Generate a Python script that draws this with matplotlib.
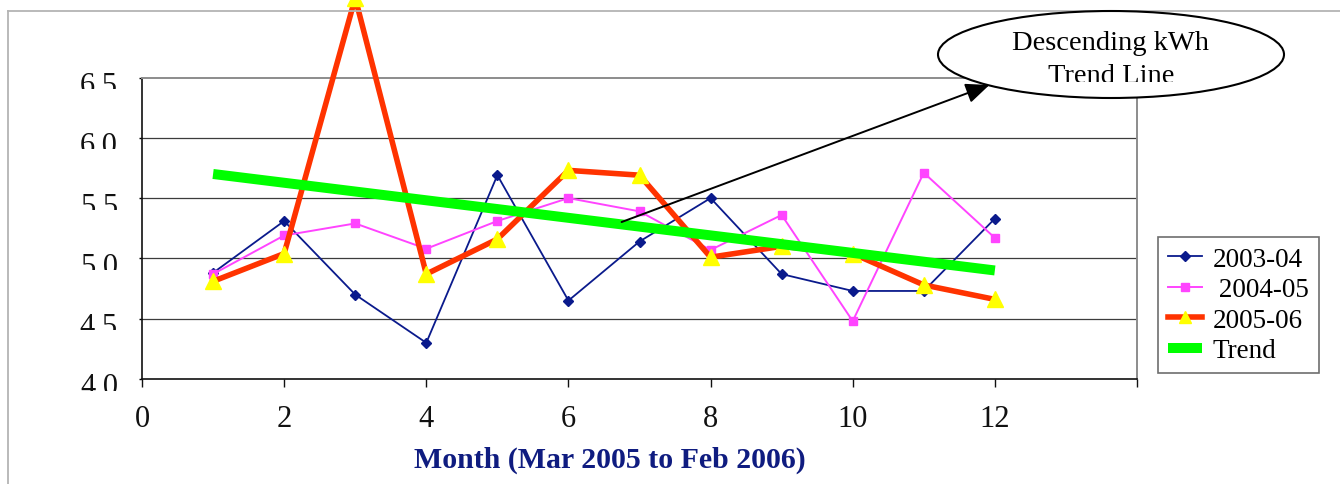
import matplotlib
matplotlib.use("Agg")
import matplotlib.pyplot as plt
from matplotlib.patches import Ellipse, FancyArrowPatch, ArrowStyle
from matplotlib.lines import Line2D
from matplotlib.transforms import Bbox, blended_transform_factory, ScaledTranslation

# ---- data ----
months = [1, 2, 3, 4, 5, 6, 7, 8, 9, 10, 11, 12]
s2003_04 = [4.88, 5.31, 4.70, 4.30, 5.69, 4.65, 5.14, 5.50, 4.87, 4.73, 4.73, 5.33]
s2004_05 = [4.87, 5.19, 5.29, 5.08, 5.31, 5.50, 5.39, 5.07, 5.36, 4.48, 5.71, 5.17]
s2005_06 = [4.81, 5.04, 7.16, 4.87, 5.16, 5.73, 5.69, 5.01, 5.10, 5.04, 4.78, 4.66]
trend_x = [1, 12]
trend_y = [5.70, 4.90]
series_labels = ["2003-04", " 2004-05", "2005-06", "Trend"]
xticks = [0, 2, 4, 6, 8, 10, 12, 14]
xtick_labels = ["0", "2", "4", "6", "8", "10", "12", ""]
yticks = [4.0, 4.5, 5.0, 5.5, 6.0, 6.5]
ytick_labels = ["4.0", "4.5", "5.0", "5.5", "6.0", "6.5"]
xlabel = "Month (Mar 2005 to Feb 2006)"
callout = "Descending kWh\nTrend Line"

W, H = 1340, 485
SERIF = "Liberation Serif"

fig = plt.figure(figsize=(W / 100, H / 100), dpi=100)
fig.patch.set_facecolor("white")

def fx(px):
    return px / W

def fy(py):
    return 1 - py / H

# outer chart border (top + left)
fig.add_artist(Line2D([fx(8), 1.0], [fy(12), fy(12)], transform=fig.transFigure,
                      color="#b4b4b4", lw=1.3))
fig.add_artist(Line2D([fx(8), fx(8)], [fy(12), 0.0], transform=fig.transFigure,
                      color="#b4b4b4", lw=1.3))

ax = fig.add_axes([fx(142), fy(380), fx(1137) - fx(142), fy(78.5) - fy(380)])
ax.set_xlim(0, 14)
ax.set_ylim(4.0, 6.5)

# grid
for v in yticks[1:-1]:
    ax.axhline(v, color="#3c3c3c", lw=0.9, zorder=1)

for side in ["left", "bottom"]:
    ax.spines[side].set_color("#111111")
    ax.spines[side].set_linewidth(1.2)
for side in ["top", "right"]:
    ax.spines[side].set_color("#8c8c8c")
    ax.spines[side].set_linewidth(1.4)

ax.set_xticks(xticks, xtick_labels)
ax.tick_params(axis="x", direction="out", length=6, width=1.0, pad=12,
               labelsize=22, colors="#111111")
for lbl in ax.get_xticklabels():
    lbl.set_fontfamily(SERIF)
ax.set_yticks(yticks)
ax.tick_params(axis="y", direction="out", length=2.5, width=1.0, labelleft=False)

# series
l1, = ax.plot(months, s2003_04, color="#0a1a8c", lw=1.3, marker="D", ms=5,
              mfc="#0a1a8c", mec="#0a1a8c", zorder=3)
l2, = ax.plot(months, s2004_05, color="#ff44ff", lw=1.4, marker="s", ms=5.5,
              mfc="#ff44ff", mec="#ff44ff", zorder=4)
l3, = ax.plot(months, s2005_06, color="#ff3300", lw=4, marker="^", ms=12,
              mfc="#ffff00", mec="#ffff00", zorder=5, clip_on=False)
l4, = ax.plot(trend_x, trend_y, color="#00ff00", lw=7.2, solid_capstyle="butt", zorder=6)

# y tick labels (top-aligned near grid lines, clipped at the bottom as in the source)
ytrans = blended_transform_factory(ax.transAxes, ax.transData)
for v, s in zip(yticks, ytick_labels):
    t = fig.text(-(142 - 118) / (1137 - 142), v, s,
                 transform=ytrans + ScaledTranslation(0, -15.5 / 100, fig.dpi_scale_trans),
                 ha="right", va="baseline", fontsize=22, family=SERIF, color="#111111")
    yd = ax.transData.transform((0, v))[1]
    t.set_clip_on(True)
    t.set_clip_box(Bbox([[0, yd - 11.5], [140, yd + 25]]))

# x label
fig.text(fx(610), fy(460), xlabel, ha="center", va="center", fontsize=21.5,
         fontweight="bold", family=SERIF, color="#0f1c80")

# legend
leg = ax.legend([l1, l2, l3, l4], series_labels, loc="upper left",
                bbox_to_anchor=(fx(1158), fy(238)), bbox_transform=fig.transFigure,
                borderaxespad=0, frameon=True, fancybox=False, framealpha=1,
                edgecolor="#6e6e6e", handlelength=1.25, handletextpad=0.4,
                labelspacing=0.2, borderpad=0.36, prop={"family": SERIF, "size": 19.5})
leg.get_frame().set_linewidth(1.2)
for h in leg.legend_handles:
    if h.get_marker() == "^":
        h.set_markersize(9)

# callout arrow and ellipse
arrow = FancyArrowPatch((fx(619), fy(224)), (fx(992), fy(85)), transform=fig.transFigure,
                        arrowstyle=ArrowStyle("-|>", head_length=0.8, head_width=0.34),
                        mutation_scale=18, lw=1.4, color="black", zorder=3)
fig.add_artist(arrow)
ell = Ellipse((fx(1111), fy(55.5)), 346 / W, 87 / H, transform=fig.transFigure,
              facecolor="white", edgecolor="black", lw=1.5, zorder=2)
fig.add_artist(ell)
ct = fig.text(fx(1111), fy(60), callout, ha="center", va="center", fontsize=20.5,
              family=SERIF, color="black", linespacing=1.42, zorder=4)
ct.set_clip_on(True)
ct.set_clip_box(Bbox([[900, H - 83], [1300, H - 14]]))

fig.savefig("out.png", dpi=100, facecolor="white")
